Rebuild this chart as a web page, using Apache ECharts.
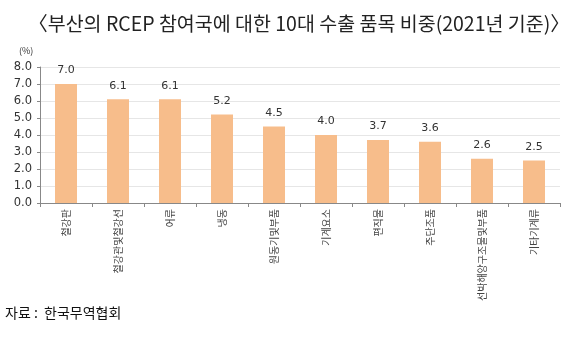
<!DOCTYPE html>
<html><head><meta charset="utf-8">
<script src="https://cdn.jsdelivr.net/npm/echarts@6/dist/echarts.min.js"></script>
<style>html,body{margin:0;padding:0;background:#fff}#c{width:580px;height:360px}</style>
</head><body><div id="c"></div>
<script>
const categories = ['철강판','철강관및철강선','어류','냉동','원동기및부품','기계요소','편직물','주단조품','선박해양구조물및부품','기타기계류'];
const values = [7.0, 6.1, 6.1, 5.2, 4.5, 4.0, 3.7, 3.6, 2.6, 2.5];
const yTicks = [0, 1, 2, 3, 4, 5, 6, 7, 8];
const titleText = '〈부산의 RCEP 참여국에 대한 10대 수출 품목 비중(2021년 기준)〉';
const unitText = '(%)';
const sourceText = '자료 :  한국무역협회';

const chart = echarts.init(document.getElementById('c'), null, {renderer:'canvas'});
const font = '"Noto Sans CJK KR", "Noto Sans", sans-serif';
chart.setOption({
  animation:false,
  textStyle:{fontFamily:font},
  title:[
    {text:titleText, left:294, top:9, textAlign:'center',
     textStyle:{fontSize:19.5, fontWeight:'normal', color:'#222', fontFamily:font}},
    {text:unitText, left:14, top:41, textStyle:{fontSize:9, fontWeight:'normal', color:'#333', fontFamily:font}},
    {text:sourceText, left:0, top:301, textStyle:{fontSize:14, fontWeight:'normal', color:'#111', fontFamily:font}}
  ],
  grid:{left:40, right:20, top:67, bottom:157, containLabel:false},
  xAxis:{type:'category', data:categories,
    axisLine:{lineStyle:{color:'#888'}},
    axisTick:{show:true, length:4, lineStyle:{color:'#888'}},
    axisLabel:{rotate:90, interval:0, fontSize:10, color:'#444', margin:6, fontFamily:font}},
  yAxis:{type:'value', min:0, max:8, interval:1,
    axisLine:{show:true, lineStyle:{color:'#888'}},
    axisTick:{show:true, length:3, lineStyle:{color:'#888'}},
    splitLine:{lineStyle:{color:'#e6e6e6'}},
    axisLabel:{formatter:v=>v.toFixed(1), fontSize:11.5, color:'#333', margin:8, fontFamily:'"DejaVu Sans", sans-serif'}},
  series:[{type:'bar', data:values, barWidth:22,
    itemStyle:{color:'#f7bd8b'},
    label:{show:true, position:'top', distance:8, formatter:p=>p.value.toFixed(1), fontSize:11, color:'#333', fontFamily:'"DejaVu Sans", sans-serif'}}]
});
</script></body></html>
